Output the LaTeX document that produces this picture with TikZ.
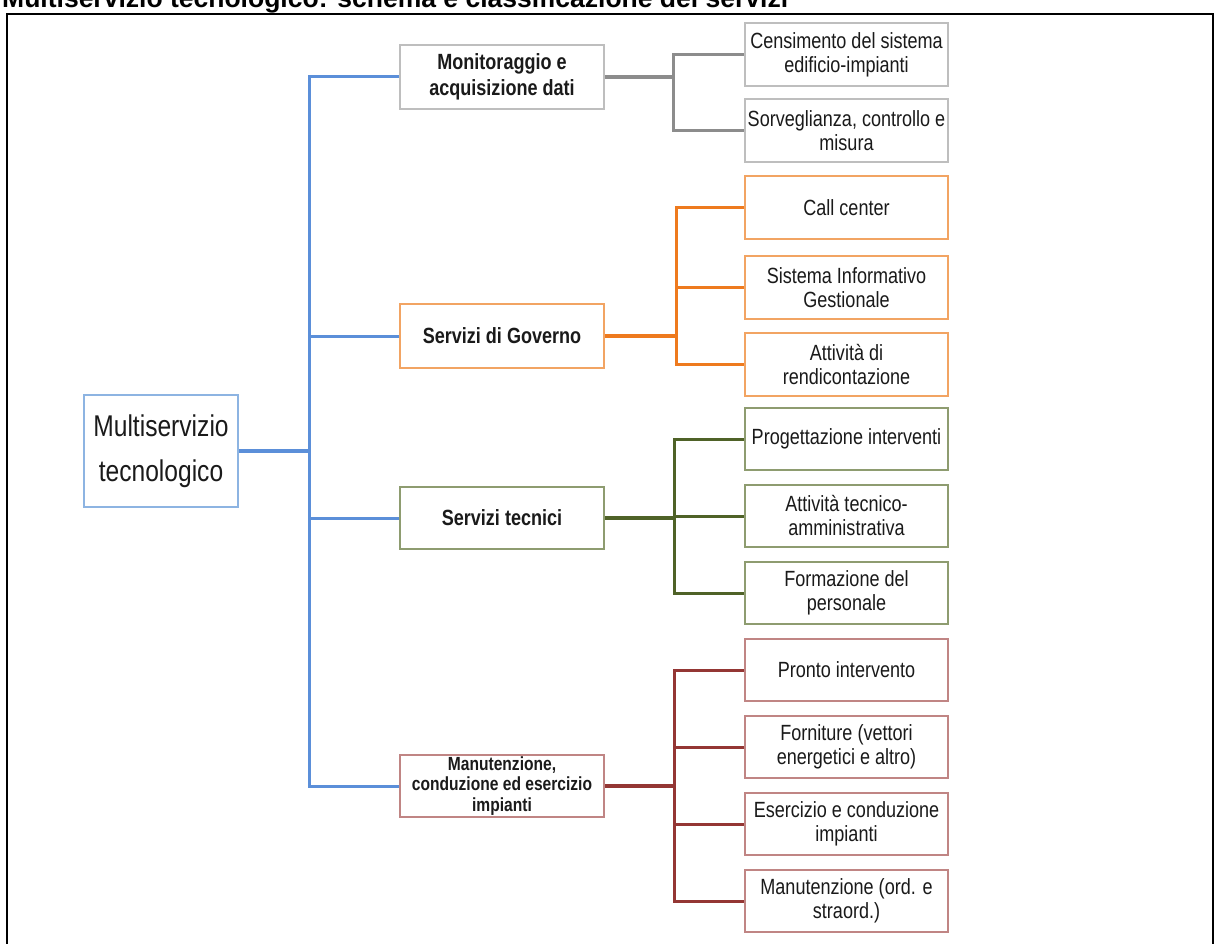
\documentclass[tikz,border=0pt]{standalone}
\usepackage{fontspec}
\setmainfont{Liberation Sans}[FakeStretch=0.82]
\newfontfamily\titlefont{Liberation Sans}
\definecolor{blueC}{HTML}{5B8FD9}
\definecolor{blueB}{HTML}{8DB4E2}
\definecolor{grayC}{HTML}{8C8C8C}
\definecolor{grayB}{HTML}{BEBEBE}
\definecolor{orangeC}{HTML}{EE7A1E}
\definecolor{orangeB}{HTML}{F2A463}
\definecolor{greenC}{HTML}{4F6228}
\definecolor{greenB}{HTML}{8E9C70}
\definecolor{redC}{HTML}{943634}
\definecolor{redB}{HTML}{C08584}
\definecolor{txt}{HTML}{1A1A1A}
\begin{document}
\begin{tikzpicture}[x=1pt,y=-1pt,
  l3/.style={draw, line width=2pt, minimum width=203pt, minimum height=63pt, inner sep=0pt, align=center, fill=white, text=txt, font=\fontsize{22}{24}\selectfont},
  l2/.style={l3, minimum width=204pt, minimum height=64pt, font=\bfseries\fontsize{22}{26}\selectfont},
  busline/.style={line width=3pt},
  trunk/.style={line width=4.5pt}]
\useasboundingbox (0,0) rectangle (1220,944);
% frame and cut title
\draw[line width=2.5pt] (7,944) -- (7,14) -- (1213,14) -- (1213,944);
\node[anchor=base west, inner sep=0pt, text=black, font=\titlefont\bfseries\fontsize{26.5}{28}\selectfont] (title) at (2,8) {Multiservizio tecnologico: schema e classificazione dei servizi};
% root
\node[draw=blueB, line width=2pt, minimum width=154pt, minimum height=112pt, inner sep=0pt, align=center, text=txt, font=\fontsize{30}{45}\selectfont] (root) at (161,451) {Multiservizio\\tecnologico};
% level 2
\node[l2, draw=grayB] (mon) at (502,77) {Monitoraggio e\\acquisizione dati};
\node[l2, draw=orangeB] (gov) at (502,336) {Servizi di Governo};
\node[l2, draw=greenB, minimum height=62pt] (tec) at (502,518) {Servizi tecnici};
\node[l2, draw=redB, minimum height=62pt, font=\bfseries\fontsize{19}{20.5}\selectfont] (man) at (502,786) {Manutenzione,\\conduzione ed esercizio\\impianti};
% level 3
\node[l3, draw=grayB] (cens) at (846.5,54.5) {Censimento del sistema\\edificio-impianti};
\node[l3, draw=grayB] (sorv) at (846.5,130.5) {Sorveglianza, controllo e\\misura};
\node[l3, draw=orangeB] (call) at (846.5,207.5) {Call center};
\node[l3, draw=orangeB] (sist) at (846.5,287.5) {Sistema Informativo\\Gestionale};
\node[l3, draw=orangeB] (attr) at (846.5,364.5) {Attività di\\rendicontazione};
\node[l3, draw=greenB, minimum height=62pt] (prog) at (846.5,439) {Progettazione interventi};
\node[l3, draw=greenB, minimum height=62pt] (atec) at (846.5,516) {Attività tecnico-\\amministrativa};
\node[l3, draw=greenB, minimum height=62pt] (form) at (846.5,593) {Formazione del\\personale};
\node[l3, draw=redB, minimum height=62pt] (pront) at (846.5,670) {Pronto intervento};
\node[l3, draw=redB, minimum height=62pt] (forn) at (846.5,747) {Forniture (vettori\\energetici e altro)};
\node[l3, draw=redB, minimum height=62pt] (eser) at (846.5,824) {Esercizio e conduzione\\impianti};
\node[l3, draw=redB, minimum height=62pt] (mord) at (846.5,901) {Manutenzione (ord. e\\straord.)};
% bus coordinates
\coordinate (bus) at (309,451);
\coordinate (gb) at (673,77);
\coordinate (ob) at (676,336);
\coordinate (tb) at (674,518);
\coordinate (rb) at (674,786);
% blue
\draw[blueC, trunk] (root.east) -- (bus);
\draw[blueC, busline] (mon.west) -| (bus) |- (man.west);
\draw[blueC, busline] (gov.west) -- (gov.west -| bus);
\draw[blueC, busline] (tec.west) -- (tec.west -| bus);
% gray
\draw[grayC, trunk] (mon.east) -- (gb);
\draw[grayC, busline] (cens.west) -| (gb) |- (sorv.west);
% orange
\draw[orangeC, trunk] (gov.east) -- (ob);
\draw[orangeC, busline] (call.west) -| (ob) |- (attr.west);
\draw[orangeC, busline] (sist.west) -- (sist.west -| ob);
% green
\draw[greenC, trunk] (tec.east) -- (tb);
\draw[greenC, busline] (prog.west) -| (tb) |- (form.west);
\draw[greenC, busline] (atec.west) -- (atec.west -| tb);
% red
\draw[redC, trunk] (man.east) -- (rb);
\draw[redC, busline] (pront.west) -| (rb) |- (mord.west);
\draw[redC, busline] (forn.west) -- (forn.west -| rb);
\draw[redC, busline] (eser.west) -- (eser.west -| rb);
\end{tikzpicture}
\end{document}
